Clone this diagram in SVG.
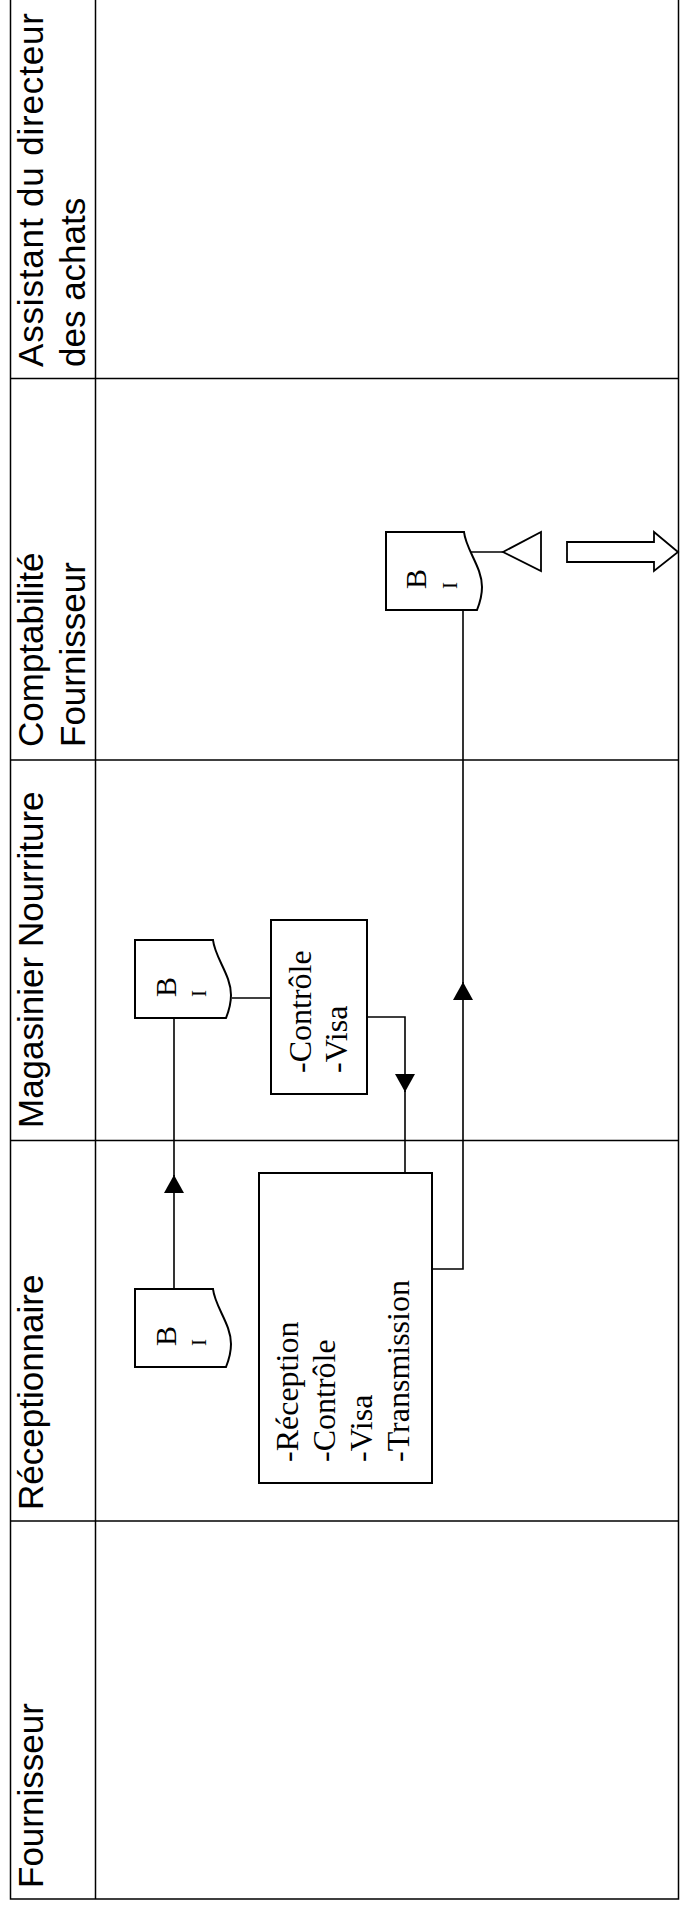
<svg xmlns="http://www.w3.org/2000/svg" xmlns:xlink="http://www.w3.org/1999/xlink" width="680" height="1908" viewBox="0 0 680 1908">
<style>
.grid{fill:none;stroke:#000;stroke-width:1.5}
.lane{font-family:"Liberation Sans",Arial,sans-serif;font-size:35px;fill:#000}
.box{fill:#fff;stroke:#000;stroke-width:2}
.txt{font-family:"Liberation Serif","Times New Roman",serif;font-size:32px;fill:#000}
.docb{font-family:"Liberation Serif","Times New Roman",serif;font-size:30px;fill:#000}
.doci{font-family:"Liberation Serif","Times New Roman",serif;font-size:21px;fill:#000}
.conn{fill:none;stroke:#000;stroke-width:1.6}
.hollow{fill:#fff;stroke:#000;stroke-width:1.8}
</style>
<defs>
<marker id="arr" markerUnits="userSpaceOnUse" markerWidth="18" markerHeight="20" viewBox="0 0 18 20" refX="18" refY="10" orient="auto">
<path d="M0,0 L18,10 L0,20 Z" fill="#000"/>
</marker>
<path id="doc" d="M0,0 H78 C80,18 96,35 96,55 C96,65 93,73 91,78 H0 Z"/>
</defs>
<rect width="680" height="1908" fill="#fff"/>
<g id="table">
<path class="grid" d="M10.5,-5 V1899 H678.5 V-5"/>
<line class="grid" x1="95.5" y1="-5" x2="95.5" y2="1899"/>
<line class="grid" x1="10.5" y1="378.5" x2="678.5" y2="378.5"/>
<line class="grid" x1="10.5" y1="760" x2="678.5" y2="760"/>
<line class="grid" x1="10.5" y1="1140.5" x2="678.5" y2="1140.5"/>
<line class="grid" x1="10.5" y1="1521" x2="678.5" y2="1521"/>
</g>
<g id="lane-assistant">
<text class="lane" transform="translate(43,367) rotate(-90)" textLength="354" lengthAdjust="spacing">Assistant du directeur</text>
<text class="lane" transform="translate(85,367) rotate(-90)">des achats</text>
</g>
<g id="lane-comptabilite">
<text class="lane" transform="translate(43,747) rotate(-90)">Comptabilité</text>
<text class="lane" transform="translate(85,747) rotate(-90)">Fournisseur</text>
</g>
<g id="lane-magasinier">
<text class="lane" transform="translate(43,1128) rotate(-90)">Magasinier Nourriture</text>
</g>
<g id="lane-receptionnaire">
<text class="lane" transform="translate(43,1510) rotate(-90)">Réceptionnaire</text>
</g>
<g id="lane-fournisseur">
<text class="lane" transform="translate(43,1888) rotate(-90)">Fournisseur</text>
</g>
<g id="connectors">
<path class="conn" d="M174,1289 V1175" marker-end="url(#arr)"/>
<path class="conn" d="M174,1176 V1017"/>
<path class="conn" d="M232,998 H271"/>
<path class="conn" d="M367,1017 H405 V1092" marker-end="url(#arr)"/>
<path class="conn" d="M405,1091 V1173"/>
<path class="conn" d="M432,1269 H463 V982" marker-end="url(#arr)"/>
<path class="conn" d="M463,983 V610"/>
<path class="conn" d="M467,552 H503"/>
</g>
<g id="doc-receptionnaire">
<use xlink:href="#doc" href="#doc" x="135" y="1289" class="box"/>
<text class="docb" transform="translate(176,1346) rotate(-90)">B</text>
<text class="doci" transform="translate(206,1346) rotate(-90)">I</text>
</g>
<g id="box-reception">
<rect class="box" x="259" y="1173" width="173" height="310"/>
<text class="txt" transform="translate(298,1462) rotate(-90)">-Réception</text>
<text class="txt" transform="translate(335,1462) rotate(-90)">-Contrôle</text>
<text class="txt" transform="translate(372,1462) rotate(-90)">-Visa</text>
<text class="txt" transform="translate(409,1462) rotate(-90)">-Transmission</text>
</g>
<g id="doc-magasinier">
<use xlink:href="#doc" href="#doc" x="135" y="940" class="box"/>
<text class="docb" transform="translate(176,997) rotate(-90)">B</text>
<text class="doci" transform="translate(206,997) rotate(-90)">I</text>
</g>
<g id="box-controle">
<rect class="box" x="271" y="920" width="96" height="174"/>
<text class="txt" transform="translate(311,1073) rotate(-90)">-Contrôle</text>
<text class="txt" transform="translate(347,1073) rotate(-90)">-Visa</text>
</g>
<g id="doc-comptabilite">
<use xlink:href="#doc" href="#doc" x="386" y="532" class="box"/>
<text class="docb" transform="translate(426,589) rotate(-90)">B</text>
<text class="doci" transform="translate(457,589) rotate(-90)">I</text>
</g>
<g id="archive">
<polygon class="hollow" points="503,552 541,532 541,571"/>
</g>
<g id="exit-arrow">
<polygon class="hollow" points="567,542 654,542 654,532 678,552 654,571 654,562 567,562"/>
</g>
</svg>
